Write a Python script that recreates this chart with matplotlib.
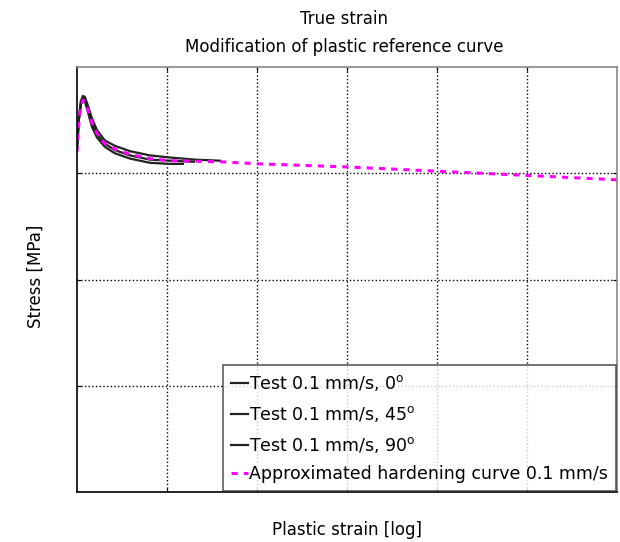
import matplotlib
matplotlib.use("Agg")
import matplotlib.pyplot as plt

# axis units (no tick labels shown): x 0..6, y 0..4
x_0deg = [0, 0.022, 0.044, 0.067, 0.089, 0.122, 0.167, 0.222, 0.311, 0.422, 0.589, 0.811, 1.033, 1.311, 1.589]
y_0deg = [3.22, 3.52, 3.68, 3.73, 3.72, 3.64, 3.52, 3.41, 3.31, 3.26, 3.21, 3.17, 3.15, 3.13, 3.12]

x_45deg = [0, 0.022, 0.044, 0.067, 0.089, 0.122, 0.167, 0.222, 0.311, 0.422, 0.589, 0.811, 1.033, 1.178]
y_45deg = [3.22, 3.50, 3.65, 3.70, 3.68, 3.58, 3.44, 3.34, 3.25, 3.19, 3.14, 3.10, 3.09, 3.09]

x_90deg = [0, 0.022, 0.044, 0.067, 0.089, 0.122, 0.167, 0.222, 0.311, 0.422, 0.589, 0.811, 1.033, 1.300]
y_90deg = [3.22, 3.51, 3.66, 3.71, 3.70, 3.61, 3.48, 3.37, 3.28, 3.22, 3.17, 3.13, 3.12, 3.11]

x_approx = [0, 0.022, 0.044, 0.067, 0.089, 0.122, 0.167, 0.222, 0.311, 0.422, 0.589, 0.811, 1.033, 1.589, 2.033, 3.033, 4.033, 5.033, 6.0]
y_approx = [3.20, 3.48, 3.63, 3.69, 3.67, 3.60, 3.48, 3.38, 3.28, 3.23, 3.18, 3.14, 3.12, 3.11, 3.09, 3.06, 3.02, 2.98, 2.94]

labels = ["Test 0.1 mm/s, 0$^\\mathregular{o}$",
          "Test 0.1 mm/s, 45$^\\mathregular{o}$",
          "Test 0.1 mm/s, 90$^\\mathregular{o}$",
          "Approximated hardening curve 0.1 mm/s"]

fig = plt.figure(figsize=(6.2, 5.42), dpi=100)
ax = fig.add_axes([0.124, 0.092, 0.871, 0.784])

ax.plot(x_0deg, y_0deg, color="#222222", lw=1.6, label=labels[0])
ax.plot(x_45deg, y_45deg, color="#222222", lw=1.6, label=labels[1])
ax.plot(x_90deg, y_90deg, color="#222222", lw=1.6, label=labels[2])
ax.plot(x_approx, y_approx, color="magenta", lw=2.2, ls=(0, (2, 2)), label=labels[3])

ax.set_xlim(0, 6)
ax.set_ylim(0, 4)
ax.set_xticks([1, 2, 3, 4, 5])
ax.set_yticks([1, 2, 3])
ax.set_xticklabels([])
ax.set_yticklabels([])
ax.tick_params(direction="in", length=3, top=True, right=True)
ax.grid(True, color="black", ls=":", lw=1)

for s in ax.spines.values():
    s.set_linewidth(1.2)
ax.spines["top"].set_color("#888888")
ax.spines["right"].set_color("#888888")

fig.text(0.56, 0.022, "Plastic strain [log]", ha="center", va="center", fontsize=12)
fig.text(0.057, 0.49, "Stress [MPa]", ha="center", va="center", rotation=90, fontsize=12)
fig.text(0.555, 0.965, "True strain", ha="center", va="center", fontsize=12)
fig.text(0.555, 0.913, "Modification of plastic reference curve", ha="center", va="center", fontsize=12)

leg = ax.legend(loc="lower right", fontsize=12.5, handlelength=1.0, handletextpad=0.05,
                borderaxespad=0.05, borderpad=0.45, labelspacing=0.62, frameon=True, fancybox=False)
leg.get_frame().set_edgecolor("#333333")
leg.get_frame().set_linewidth(1.2)

fig.savefig("out.png", dpi=100)
